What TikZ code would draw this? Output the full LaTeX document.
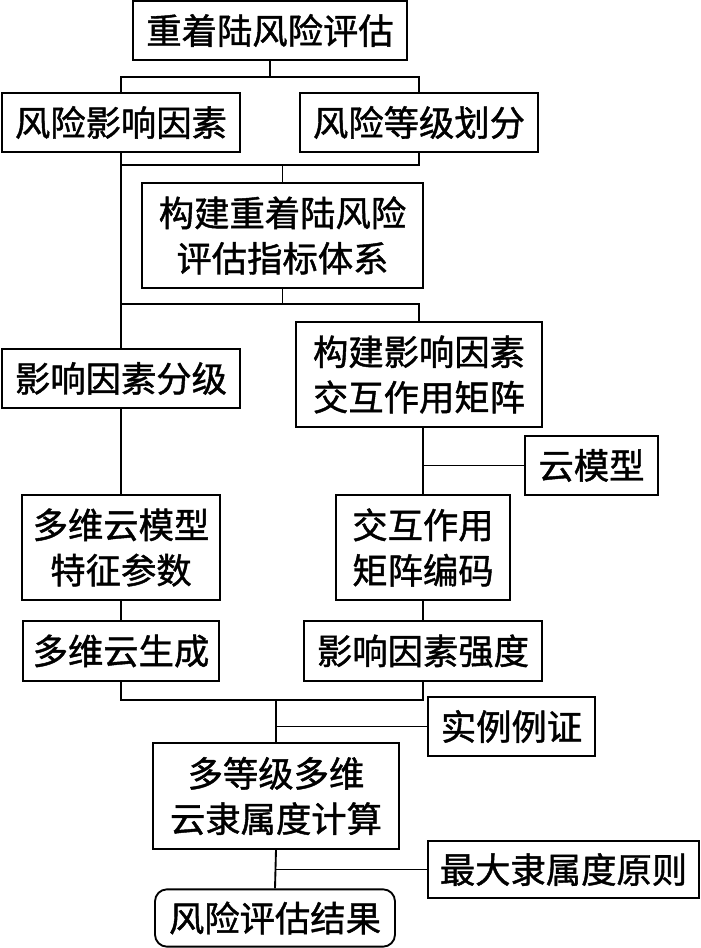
\documentclass[tikz,border=0pt]{standalone}
\usepackage{fontspec}
\newfontfamily\cjk{Noto Sans CJK SC}[FakeBold=1.2]
\usepackage{tikz}

\begin{document}
\begin{tikzpicture}[x=0.75pt, y=-0.75pt, line width=1.4pt,
	box/.style={draw, inner sep=0pt, align=center, font=\cjk\fontsize{26.5}{34}\selectfont},
	rbox/.style={box, rounded corners=9pt}]
\useasboundingbox (0,0) rectangle (700,948);
%top rows
\node[box, minimum width=206pt, minimum height=44pt] (top) at (270,30.5) {重着陆风险评估};
\node[box, minimum width=179pt, minimum height=44pt] (fac) at (121,122.5) {风险影响因素};
\node[box, minimum width=178pt, minimum height=44pt] (lvl) at (419,122.5) {风险等级划分};
\node[box, minimum width=211pt, minimum height=79pt] (idx) at (282.5,235.5) {构建重着陆风险\\评估指标体系};
%left branch
\node[box, minimum width=179pt, minimum height=44pt] (grd) at (121,378.5) {影响因素分级};
\node[box, minimum width=148pt, minimum height=79pt] (par) at (121,547.5) {多维云模型\\特征参数};
\node[box, minimum width=147pt, minimum height=45pt] (gen) at (121,651) {多维云生成};
%right branch
\node[box, minimum width=184pt, minimum height=79pt] (mat) at (419,374.5) {构建影响因素\\交互作用矩阵};
\node[box, minimum width=100pt, minimum height=44pt] (cld) at (591.5,465.5) {云模型};
\node[box, minimum width=130pt, minimum height=79pt] (cod) at (423,547.5) {交互作用\\矩阵编码};
\node[box, minimum width=178pt, minimum height=45pt] (str) at (423,651) {影响因素强度};
%bottom
\node[box, minimum width=125pt, minimum height=44pt] (exm) at (511.5,726.5) {实例例证};
\node[box, minimum width=184pt, minimum height=79pt] (mem) at (276,796) {多等级多维\\云隶属度计算};
\node[box, minimum width=203pt, minimum height=43pt] (max) at (563.5,869.5) {最大隶属度原则};
\node[rbox, minimum width=180pt, minimum height=43pt] (res) at (275,918) {风险评估结果};
%joints
\coordinate (j1) at (272,77);
\coordinate (j2) at (282.5,165);
\coordinate (j3) at (282.5,304);
\coordinate (j5) at (276,700);
%links
\draw (top.south) -- (top.south |- j1);
\draw (fac.north) |- (j1) -| (lvl.north);
\draw (fac.south) |- (j2) -| (lvl.south);
\draw (j2) -- (idx.north);
\draw (idx.south) -- (j3);
\draw (fac.south) -- (grd.north);
\draw (j3) -| (mat.north);
\draw (j3) -| (grd.north);
\draw (grd.south) -- (par.north);
\draw (par.south) -- (gen.north);
\draw (cod.north) -- (cod.north |- mat.south);
\draw (cld.west) -- (cld.west -| cod.north);
\draw (cod.south) -- (str.north);
\draw (gen.south) |- (j5) -| (str.south);
\draw (j5) -- (mem.north);
\draw (exm.west) -- (exm.west -| mem.north);
\draw (mem.south) -- (res.north);
\draw (max.west) -- (max.west -| mem.north);
\end{tikzpicture}
\end{document}
